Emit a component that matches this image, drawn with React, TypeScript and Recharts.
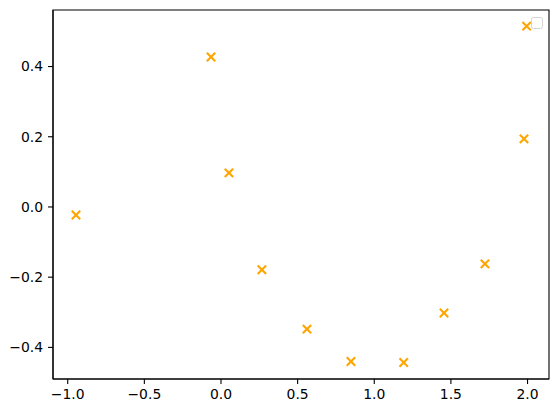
import React from 'react';
import { ScatterChart, Scatter, XAxis, YAxis, ReferenceArea } from 'recharts';

const xValues = [-0.065, 0.052, 1.994, 1.977, -0.946, 0.267, 0.561, 0.848, 1.192, 1.455, 1.722];
const yValues = [0.427, 0.097, 0.515, 0.194, -0.023, -0.179, -0.348, -0.440, -0.443, -0.302, -0.162];
const xTicks = [-1.0, -0.5, 0.0, 0.5, 1.0, 1.5, 2.0];
const yTicks = [-0.4, -0.2, 0.0, 0.2, 0.4];
const xDomain = [-1.096, 2.14];
const yDomain = [-0.49, 0.561];

const data = xValues.map((x, i) => ({ x, y: yValues[i] }));

const fmt = (v: number) => {
  const s = Math.abs(v).toFixed(1);
  return v < -1e-9 ? '\u2212' + s : s;
};

const XMarker = (props: any) => {
  const { cx, cy } = props;
  const r = 4.2;
  return (
    <g>
      <line x1={cx - r} y1={cy - r} x2={cx + r} y2={cy + r} stroke="#FFA500" strokeWidth={2.1} />
      <line x1={cx - r} y1={cy + r} x2={cx + r} y2={cy - r} stroke="#FFA500" strokeWidth={2.1} />
    </g>
  );
};

const tickStyle = { fontFamily: 'DejaVu Sans', fontSize: 13.9, fill: '#000' };

export default function App() {
  return (
    <div style={{ position: 'absolute', left: 0, top: 0, width: 559, height: 413, background: '#fff' }}>
      <ScatterChart width={559} height={413} margin={{ top: 10, right: 10, bottom: 0, left: 0 }}>
        <XAxis
          type="number"
          dataKey="x"
          domain={xDomain}
          ticks={xTicks}
          tickFormatter={fmt}
          height={34}
          tickSize={5}
          tickMargin={5}
          stroke="#000"
          axisLine={{ stroke: '#000', strokeWidth: 1.1 }}
          tickLine={{ stroke: '#000', strokeWidth: 1.1 }}
          tick={tickStyle}
          allowDataOverflow
        />
        <YAxis
          type="number"
          dataKey="y"
          domain={yDomain}
          ticks={yTicks}
          tickFormatter={fmt}
          width={53}
          tickSize={5}
          tickMargin={5}
          stroke="#000"
          axisLine={{ stroke: '#000', strokeWidth: 1.1 }}
          tickLine={{ stroke: '#000', strokeWidth: 1.1 }}
          tick={tickStyle}
          allowDataOverflow
        />
        <ReferenceArea
          x1={xDomain[0]}
          x2={xDomain[1]}
          y1={yDomain[0]}
          y2={yDomain[1]}
          fill="none"
          fillOpacity={0}
          stroke="#000"
          strokeWidth={1.1}
          ifOverflow="visible"
        />
        <Scatter
          data={data}
          shape={<XMarker />}
          isAnimationActive={false}
        />
      </ScatterChart>
      <div
        style={{
          position: 'absolute',
          left: 531,
          top: 17,
          width: 10,
          height: 10,
          border: '1px solid #d4d4d4',
          borderRadius: 2.5,
          background: 'rgba(255,255,255,0.8)',
        }}
      />
    </div>
  );
}
